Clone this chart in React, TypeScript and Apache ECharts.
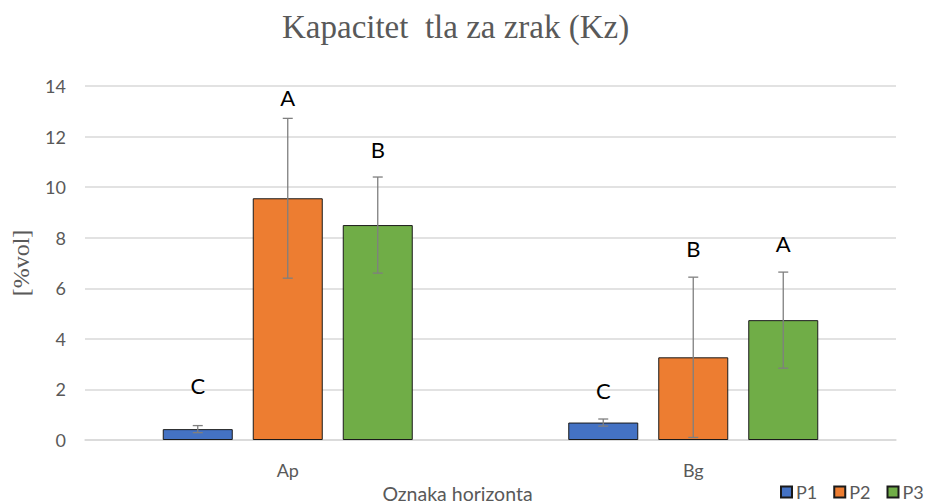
import React, { useEffect, useRef } from "react";
import * as echarts from "echarts";

const categories = ["Ap", "Bg"];
const seriesNames = ["P1", "P2", "P3"];
const colors = ["#4472C4", "#ED7D31", "#70AD47"];
const p1Values = [0.43, 0.69];
const p2Values = [9.56, 3.27];
const p3Values = [8.5, 4.74];
const p1Errors = [0.14, 0.14];
const p2Errors = [3.16, 3.17];
const p3Errors = [1.9, 1.9];
const p1Letters = ["C", "C"];
const p2Letters = ["A", "B"];
const p3Letters = ["B", "A"];
const p1LetterY = [2.17, 1.94];
const p2LetterY = [13.56, 7.59];
const p3LetterY = [11.5, 7.79];
const yTicks = [0, 2, 4, 6, 8, 10, 12, 14];

const BAR_W = 70;
const BAR_GAP = 20;
const SANS = "Lato, 'Open Sans', sans-serif";
const SERIF = "'Liberation Serif', 'DejaVu Serif', serif";

export default function App() {
  const ref = useRef<HTMLDivElement>(null);
  useEffect(() => {
    if (!ref.current) return;
    const chart = echarts.init(ref.current, null, { renderer: "svg" });
    const values = [p1Values, p2Values, p3Values];
    const errors = [p1Errors, p2Errors, p3Errors];
    const letters = [p1Letters, p2Letters, p3Letters];
    const letterY = [p1LetterY, p2LetterY, p3LetterY];
    const offsets = [-(BAR_W + BAR_GAP), 0, BAR_W + BAR_GAP];

    const barSeries = seriesNames.map((name, i) => ({
      name,
      type: "bar",
      data: values[i],
      barWidth: BAR_W,
      barGap: (BAR_GAP / BAR_W) * 100 + "%",
      itemStyle: { color: colors[i], borderColor: "#1a1a1a", borderWidth: 1 },
      z: 2,
    }));

    const errSeries = seriesNames.map((name, i) => ({
      name: name + "-err",
      type: "custom",
      data: values[i].map((v, c) => [c, v, errors[i][c]]),
      encode: { x: 0, y: 1 },
      z: 5,
      silent: true,
      renderItem: (params: any, api: any) => {
        const c = api.value(0);
        const v = api.value(1);
        const e = api.value(2);
        const top = api.coord([c, v + e]);
        const bot = api.coord([c, v - e]);
        const x = top[0] + offsets[i];
        const style = { stroke: "#7f7f7f", lineWidth: 1.3 };
        return {
          type: "group",
          children: [
            { type: "line", shape: { x1: x, y1: top[1], x2: x, y2: bot[1] }, style },
            { type: "line", shape: { x1: x - 5, y1: top[1], x2: x + 5, y2: top[1] }, style },
            { type: "line", shape: { x1: x - 5, y1: bot[1], x2: x + 5, y2: bot[1] }, style },
          ],
        };
      },
    }));

    const letterSeries = seriesNames.map((name, i) => ({
      name: name + "-lbl",
      type: "custom",
      data: letterY[i].map((y, c) => [c, y, letters[i][c]]),
      encode: { x: 0, y: 1 },
      z: 6,
      silent: true,
      renderItem: (params: any, api: any) => {
        const c = api.value(0);
        const y = api.value(1);
        const p = api.coord([c, y]);
        return {
          type: "text",
          x: p[0] + offsets[i],
          y: p[1],
          style: {
            text: letters[i][c],
            fontFamily: SANS,
            fontSize: 22,
            fill: "#000000",
            align: "center",
            verticalAlign: "middle",
          },
        };
      },
    }));

    chart.setOption({
      animation: false,
      backgroundColor: "#ffffff",
      title: {
        text: "Kapacitet  tla za zrak (Kz)",
        left: 277,
        top: 5,
        textStyle: {
          fontFamily: SERIF,
          fontSize: 33,
          fontWeight: "normal",
          color: "#595959",
        },
      },
      legend: {
        data: seriesNames,
        left: 775,
        top: 478,
        width: 200,
        itemWidth: 11,
        itemHeight: 11,
        itemGap: 16,
        icon: "rect",
        textStyle: {
          fontFamily: SANS,
          fontSize: 18,
          color: "#595959",
          padding: [0, 0, 0, -1],
        },
      },
      grid: {
        left: 85,
        right: 33,
        top: 86,
        bottom: 63,
        containLabel: false,
        outerBoundsMode: "none",
      },
      xAxis: {
        type: "category",
        data: categories,
        name: "Oznaka horizonta",
        nameLocation: "middle",
        nameGap: 36,
        nameTextStyle: {
          fontFamily: SANS,
          fontSize: 19.5,
          lineHeight: 19,
          color: "#595959",
          padding: [0, 66, 0, 0],
        },
        axisLine: { show: true, lineStyle: { color: "#d9d9d9", width: 1.5 } },
        axisTick: { show: false },
        axisLabel: {
          margin: 21,
          fontFamily: SANS,
          fontSize: 18,
          color: "#595959",
        },
      },
      yAxis: {
        type: "value",
        min: yTicks[0],
        max: yTicks[yTicks.length - 1],
        interval: 2,
        name: "[%vol]",
        nameLocation: "middle",
        nameRotate: 90,
        nameGap: 52,
        nameTextStyle: {
          fontFamily: SERIF,
          fontSize: 24,
          color: "#595959",
        },
        axisLine: { show: false },
        axisTick: { show: false },
        splitLine: { lineStyle: { color: "#d9d9d9", width: 1.5 } },
        axisLabel: {
          margin: 19,
          fontFamily: SANS,
          fontSize: 18,
          color: "#595959",
        },
      },
      series: [...barSeries, ...errSeries, ...letterSeries],
    });
    return () => chart.dispose();
  }, []);
  return (
    <div
      ref={ref}
      style={{ position: "absolute", left: 0, top: 0, width: 929, height: 503 }}
    />
  );
}
